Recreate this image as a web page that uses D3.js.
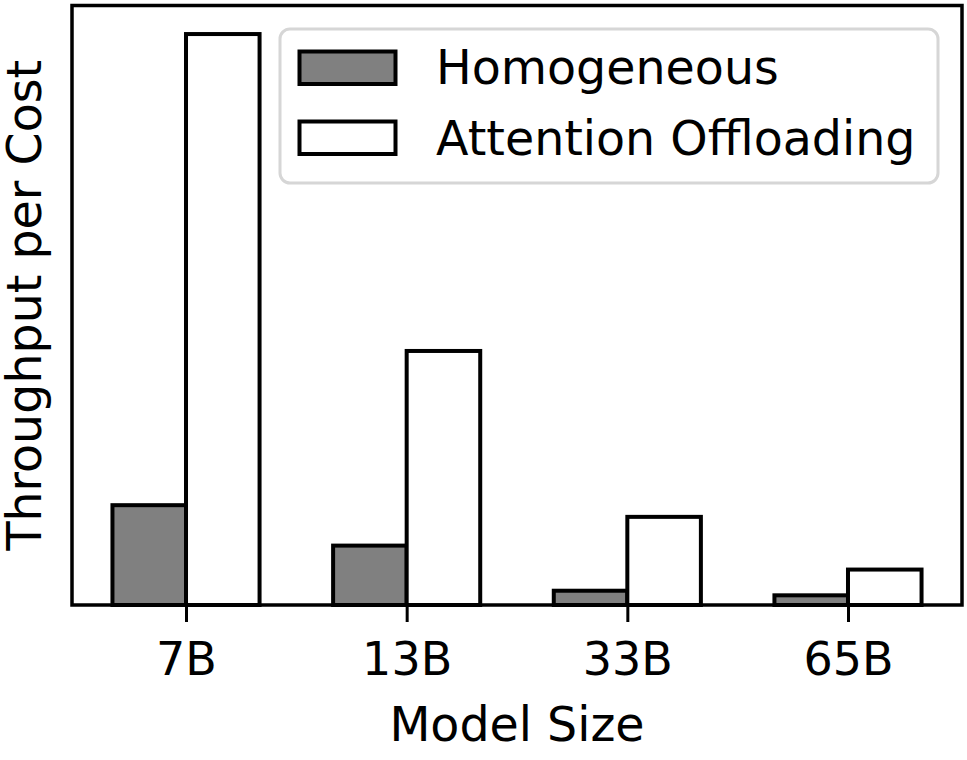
<!DOCTYPE html>
<html>
<head>
<meta charset="utf-8">
<script src="https://cdn.jsdelivr.net/npm/d3@7"></script>
<style>
  body { margin: 0; background: white; }
  svg { display: block; }
  text { font-family: "DejaVu Sans", sans-serif; fill: black; }
</style>
</head>
<body>
<script>
// データ
const models = ["7B", "13B", "33B", "65B"];
const homogeneous = [1.00, 0.595, 0.143, 0.097];
const offloading = [5.72, 2.545, 0.883, 0.355];
const seriesNames = ["Homogeneous", "Attention Offloading"];
const seriesColors = ["#808080", "#ffffff"];

const width = 967;
const height = 760;
const margin = {top: 5.5, right: 5, bottom: 155, left: 72};
const barW = 1 / 3;

const svg = d3.select("body")
    .append("svg")
    .attr("width", width)
    .attr("height", height);

// x: matplotlib風に余白5%
const xmin = -barW, xmax = models.length - 1 + barW;
const pad = (xmax - xmin) * 0.05;
const x = d3.scaleLinear()
    .domain([xmin - pad, xmax + pad])
    .range([margin.left, width - margin.right]);

const y = d3.scaleLinear()
    .domain([0, d3.max(offloading) * 1.05])
    .range([height - margin.bottom, margin.top]);

// バー
const series = [homogeneous, offloading];
series.forEach((vals, s) => {
    svg.selectAll(".bar" + s)
        .data(vals)
        .enter()
        .append("rect")
        .attr("x", (d, i) => x(i + (s === 0 ? -barW : 0)))
        .attr("y", d => y(d))
        .attr("width", x(barW) - x(0))
        .attr("height", d => y(0) - y(d))
        .attr("fill", seriesColors[s])
        .attr("stroke", "black")
        .attr("stroke-width", 4);
});

// 枠
svg.append("rect")
    .attr("x", margin.left)
    .attr("y", margin.top)
    .attr("width", width - margin.right - margin.left)
    .attr("height", y(0) - margin.top)
    .attr("fill", "none")
    .attr("stroke", "black")
    .attr("stroke-width", 3.5);

// x軸
const xAxis = svg.append("g")
    .attr("transform", `translate(0,${y(0)})`)
    .call(d3.axisBottom(x)
        .tickValues(d3.range(models.length))
        .tickFormat(i => models[i])
        .tickSize(17)
        .tickPadding(20));
xAxis.select(".domain").remove();
xAxis.selectAll(".tick line").attr("stroke", "black").attr("stroke-width", 3);
xAxis.selectAll(".tick text")
    .attr("font-size", 46)
    .attr("font-family", "DejaVu Sans")
    .attr("fill", "black");

// 軸ラベル
svg.append("text")
    .attr("x", (margin.left + width - margin.right) / 2)
    .attr("y", 741)
    .attr("text-anchor", "middle")
    .attr("font-size", 47.5)
    .text("Model Size");

svg.append("text")
    .attr("transform", `translate(41,${(margin.top + y(0)) / 2}) rotate(-90)`)
    .attr("text-anchor", "middle")
    .attr("font-size", 47.5)
    .text("Throughput per Cost");

// 凡例
const legend = svg.append("g");
legend.append("rect")
    .attr("x", 280)
    .attr("y", 29)
    .attr("width", 658)
    .attr("height", 154)
    .attr("rx", 10)
    .attr("fill", "white")
    .attr("stroke", "#d6d6d6")
    .attr("stroke-width", 3);

seriesNames.forEach((name, s) => {
    legend.append("rect")
        .attr("x", 299.5)
        .attr("y", 51.5 + s * 70)
        .attr("width", 96)
        .attr("height", 32.5)
        .attr("fill", seriesColors[s])
        .attr("stroke", "black")
        .attr("stroke-width", 4);
    legend.append("text")
        .attr("x", 436)
        .attr("y", 84 + s * 71)
        .attr("font-size", 47.5)
        .text(name);
});
</script>
</body>
</html>
